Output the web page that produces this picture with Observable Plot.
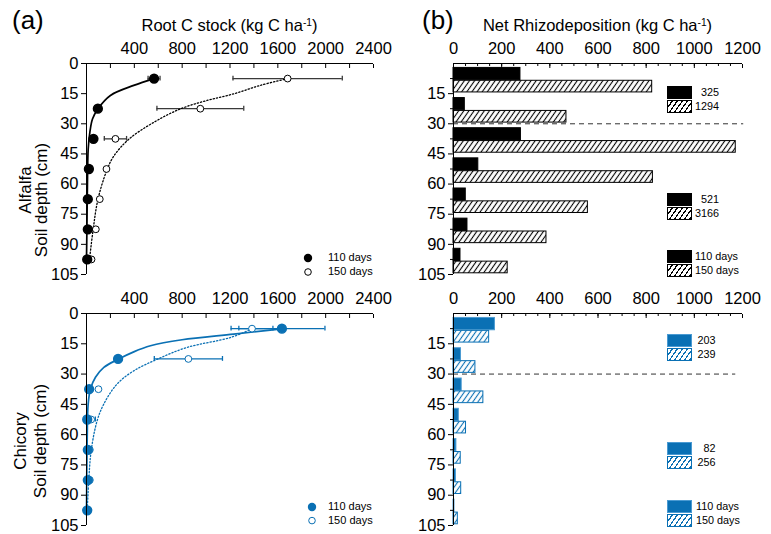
<!DOCTYPE html>
<html><head><meta charset="utf-8">
<script src="https://cdn.jsdelivr.net/npm/d3@7"></script>
<script src="https://cdn.jsdelivr.net/npm/@observablehq/plot@0.6"></script>
<style>
body{margin:0;background:#fff;}
#fig{position:relative;width:771px;height:534px;font-family:"Liberation Sans",Arial,Helvetica,sans-serif;color:#000;overflow:hidden;background:#fff}
.t{position:absolute;white-space:nowrap;line-height:1;}
.sw{position:absolute;box-sizing:border-box;width:25px;height:13px;}
</style></head><body><div id="fig"></div>
<script>
// ---------- data ----------
const depthTop = [0, 15, 30, 45, 60, 75, 90];
const depthMid = [7.5, 22.5, 37.5, 52.5, 67.5, 82.5, 97.5];
const xTicksRoot = [400, 800, 1200, 1600, 2000, 2400];
const xTicksRhizo = [0, 200, 400, 600, 800, 1000, 1200];
const yTicksDepth = [0, 15, 30, 45, 60, 75, 90, 105];

// Root C stock (kg C ha-1)
const alfalfaRoot110 = [565, 95, 58, 20, 11, 11, 6];
const alfalfaRoot110Err = [50, 0, 0, 0, 0, 0, 0];
const alfalfaRoot150 = [1682, 952, 242, 167, 111, 78, 42];
const alfalfaRoot150Err = [457, 363, 93, 0, 0, 0, 0];
const chicoryRoot110 = [1634, 264, 22, 6, 11, 11, 6];
const chicoryRoot110Err = [360, 0, 0, 0, 0, 0, 0];
const chicoryRoot150 = [1384, 852, 100, 39, 28, 28, 11];
const chicoryRoot150Err = [175, 285, 0, 35, 15, 15, 10];

// fitted curves
const alfalfaFit110Root = [565, 395, 200, 95, 50, 28, 14, 8, 3, 0];
const alfalfaFit110Depth = [7.5, 10.9, 15.9, 22.6, 27.6, 34.3, 42.7, 59.5, 84.6, 97.5];
const alfalfaFit150Root = [1682, 1453, 1231, 1008, 785, 562, 354, 228, 167, 95, 55, 25];
const alfalfaFit150Depth = [7.5, 10.9, 15.1, 18.4, 22.6, 29.3, 37.7, 46.1, 53.6, 67.8, 82.9, 97.5];
const chicoryFit110Root = [1634, 1230, 799, 535, 395, 264, 145, 75, 33, 14, 6, 0];
const chicoryFit110Depth = [7.6, 10.2, 13.0, 16.0, 19.0, 22.7, 26.7, 31.6, 37.4, 44.8, 61.3, 97.5];
const chicoryFit150Root = [1384, 1203, 841, 590, 395, 256, 145, 89, 39, 19, 6];
const chicoryFit150Depth = [7.6, 11.9, 16.8, 22.7, 28.4, 34.9, 44.8, 53.1, 67.9, 82.7, 97.6];

// Net rhizodeposition (kg C ha-1), per 15-cm layer
const alfalfaRhizo110 = [278, 47, 280, 103, 51, 58, 29];
const alfalfaRhizo150 = [825, 469, 1172, 828, 558, 386, 225];
const chicoryRhizo110 = [172, 31, 34, 22, 12, 10, 4];
const chicoryRhizo150 = [148, 91, 124, 52, 30, 32, 18];
// layer totals shown as legends (0-30 cm, 30-105 cm)
const alfalfaTotal110 = [325, 521];
const alfalfaTotal150 = [1294, 3166];
const chicoryTotal110 = [203, 82];
const chicoryTotal150 = [239, 256];
const seriesNames = ["110 days", "150 days"];

// ---------- style ----------
const FONT = '"Liberation Sans", Arial, Helvetica, sans-serif';
const BLACK = "#000";
const BLUE = "#0a70b4";
const BLUE_EDGE = "#4a9ad2";
const fmt = d => String(d);
const fig = document.getElementById("fig");

function place(el, left, top) {
  el.style.position = "absolute"; el.style.left = left + "px"; el.style.top = top + "px";
  fig.appendChild(el);
}
function txt(html, x, baseline, size, anchor = "start") {
  const d = document.createElement("div");
  d.className = "t";
  d.innerHTML = html;
  d.style.fontSize = size + "px";
  d.style.left = x + "px";
  d.style.top = (baseline - 0.8465 * size) + "px";
  if (anchor === "middle") d.style.transform = "translateX(-50%)";
  if (anchor === "end") d.style.transform = "translateX(-100%)";
  fig.appendChild(d);
  return d;
}
function vtxt(str, baselineX, cy, size) {
  const d = document.createElement("div");
  d.className = "t";
  d.textContent = str;
  d.style.fontSize = size + "px";
  d.style.left = (baselineX - 0.3465 * size) + "px";
  d.style.top = cy + "px";
  d.style.transform = "translate(-50%,-50%) rotate(-90deg)";
  fig.appendChild(d);
}
function addHatch(svg, id, color) {
  const ns = "http://www.w3.org/2000/svg";
  const defs = document.createElementNS(ns, "defs");
  defs.innerHTML = `<pattern id="${id}" patternUnits="userSpaceOnUse" width="4.2" height="6" patternTransform="rotate(35)">
    <rect width="4.2" height="6" fill="#fff"/>
    <line x1="2.1" y1="-1" x2="2.1" y2="7" stroke="${color}" stroke-width="1.1"/></pattern>`;
  svg.insertBefore(defs, svg.firstChild);
}

// ---------- panel (a): root C stock ----------
function rootPanel(c) {
  const p110 = depthMid.map((d, i) => ({d, v: c.v110[i], e: c.e110[i]}));
  const p150 = depthMid.map((d, i) => ({d, v: c.v150[i], e: c.e150[i]}));
  const errs = [...p110, ...p150].filter(p => p.e > 0);
  const caps = errs.flatMap(p => [{d: p.d, x: p.v - p.e}, {d: p.d, x: p.v + p.e}]);
  const f110 = c.fit110v.map((v, i) => ({v, d: c.fit110d[i]}));
  const f150 = c.fit150v.map((v, i) => ({v, d: c.fit150d[i]}));
  return Plot.plot({
    width: 385, height: c.height,
    marginLeft: 86, marginRight: 12, marginTop: c.mt, marginBottom: c.mb,
    style: {fontSize: "16.5px", fontFamily: FONT, color: "#000", background: "none", overflow: "visible"},
    x: {domain: [0, 2400]},
    y: {domain: [0, 105], reverse: true},
    marks: [
      Plot.ruleY(errs, {y: "d", x1: p => p.v - p.e, x2: p => p.v + p.e, stroke: c.err, strokeWidth: 1.3}),
      Plot.ruleX(caps, {x: "x", y1: p => p.d - 1.2, y2: p => p.d + 1.2, stroke: c.err, strokeWidth: 1.3}),
      Plot.line(f150, {x: "v", y: "d", curve: "catmull-rom", stroke: c.color, strokeWidth: 1.3, strokeDasharray: "1.3,2"}),
      Plot.line(f110, {x: "v", y: "d", curve: "catmull-rom", stroke: c.color, strokeWidth: 1.7}),
      Plot.dot(p150, {x: "v", y: "d", r: 3.4, fill: "#fff", stroke: c.color, strokeWidth: 1}),
      Plot.dot(p110, {x: "v", y: "d", r: 4.4, fill: c.color, stroke: c.color}),
      Plot.ruleY([0]), Plot.ruleX([0]),
      Plot.axisX({anchor: "top", ticks: d3.range(0, 2401, 200), tickSize: -4, fill: "none", label: null}),
      Plot.axisX({anchor: "top", ticks: xTicksRoot, tickSize: 0, tickPadding: 9.5, tickFormat: fmt, label: null}),
      Plot.axisY({anchor: "left", ticks: yTicksDepth, tickSize: 5, tickPadding: 3, tickFormat: fmt, label: null})
    ]
  });
}

// ---------- panel (b): rhizodeposition ----------
function rhizoPanel(c) {
  const rows = depthTop.map((t, i) => ({t, a: c.v110[i], b: c.v150[i]}));
  const svg = Plot.plot({
    width: 386, height: c.height,
    marginLeft: 68, marginRight: 29, marginTop: c.mt, marginBottom: c.mb,
    style: {fontSize: "16.5px", fontFamily: FONT, color: "#000", background: "none", overflow: "visible"},
    x: {domain: [0, 1200]},
    y: {domain: [0, 105], reverse: true},
    marks: [
      Plot.rect(rows, {x1: 0, x2: "a", y1: r => r.t + 2.2, y2: r => r.t + 8.3, fill: c.fill110, stroke: c.edge110, strokeWidth: 1}),
      Plot.rect(rows, {x1: 0, x2: "b", y1: r => r.t + 8.6, y2: r => r.t + 14.4, fill: `url(#${c.hatch})`, stroke: c.color, strokeWidth: 1}),
      Plot.ruleY([30], {x1: 0, x2: c.dashEnd, stroke: "#333", strokeWidth: 1, strokeDasharray: "5,4"}),
      Plot.ruleY([0]), Plot.ruleX([0]),
      Plot.axisX({anchor: "top", ticks: d3.range(0, 1201, 50), tickSize: -2, fill: "none", label: null}),
      Plot.axisX({anchor: "top", ticks: xTicksRhizo, tickSize: -4, fill: "none", label: null}),
      Plot.axisX({anchor: "top", ticks: xTicksRhizo, tickSize: 0, tickPadding: 9.5, tickFormat: fmt, label: null}),
      Plot.axisY({anchor: "left", ticks: depthMid, tickSize: 3, fill: "none", label: null}),
      Plot.axisY({anchor: "left", ticks: yTicksDepth.slice(1), tickSize: 5, tickPadding: 3, tickFormat: fmt, label: null})
    ]
  });
  addHatch(svg, c.hatch, c.color);
  return svg;
}

place(rootPanel({v110: alfalfaRoot110, e110: alfalfaRoot110Err, v150: alfalfaRoot150, e150: alfalfaRoot150Err,
  fit110v: alfalfaFit110Root, fit110d: alfalfaFit110Depth, fit150v: alfalfaFit150Root, fit150d: alfalfaFit150Depth,
  color: BLACK, err: "#3a3a3a", height: 282, mt: 63, mb: 8}), 0, 0);
place(rootPanel({v110: chicoryRoot110, e110: chicoryRoot110Err, v150: chicoryRoot150, e150: chicoryRoot150Err,
  fit110v: chicoryFit110Root, fit110d: chicoryFit110Depth, fit150v: chicoryFit150Root, fit150d: chicoryFit150Depth,
  color: BLUE, err: BLUE, height: 252, mt: 31, mb: 9}), 0, 282);
place(rhizoPanel({v110: alfalfaRhizo110, v150: alfalfaRhizo150, fill110: "#000", edge110: "#000", color: "#000",
  hatch: "hatchK", dashEnd: 1205, height: 282, mt: 63, mb: 8}), 385, 0);
place(rhizoPanel({v110: chicoryRhizo110, v150: chicoryRhizo150, fill110: BLUE, edge110: BLUE_EDGE, color: BLUE,
  hatch: "hatchB", dashEnd: 1172, height: 252, mt: 31, mb: 9}), 385, 282);

// ---------- titles ----------
txt("(a)", 12, 29.5, 26);
txt("(b)", 422, 29.5, 26);
txt("Root C stock (kg C ha<sup style='font-size:0.62em;vertical-align:0;position:relative;top:-0.5em'>-1</sup>)", 229.5, 31, 16.5, "middle");
txt("Net Rhizodeposition (kg C ha<sup style='font-size:0.62em;vertical-align:0;position:relative;top:-0.5em'>-1</sup>)", 597.5, 31, 16.5, "middle");
vtxt("Alfalfa", 31, 190, 17);
vtxt("Soil depth (cm)", 46.5, 200, 17);
vtxt("Chicory", 26, 441, 17);
vtxt("Soil depth (cm)", 45.5, 441, 17);

// ---------- legends in (a) ----------
function dotLegend(cx, cy1, cy2, color, tx) {
  const ns = "http://www.w3.org/2000/svg";
  const s = document.createElementNS(ns, "svg");
  s.setAttribute("width", 12); s.setAttribute("height", 26);
  s.innerHTML = `<circle cx="6" cy="5" r="4.2" fill="${color}"/><circle cx="6" cy="${cy2 - cy1 + 5}" r="3.3" fill="#fff" stroke="${color}" stroke-width="1"/>`;
  s.style.overflow = "visible";
  place(s, cx - 6, cy1 - 5);
  txt(seriesNames[0], tx, cy1 + 3.8, 11);
  txt(seriesNames[1], tx, cy2 + 3.8, 11);
}
dotLegend(308.3, 257.7, 271.7, BLACK, 328);
dotLegend(311.7, 506.7, 520.3, BLUE, 328);

// ---------- legends in (b) ----------
function swatch(x, y, solid, color, edge) {
  const d = document.createElement("div");
  d.className = "sw";
  if (solid) { d.style.background = color; d.style.border = "1px solid " + edge; }
  else {
    d.style.border = "1px solid " + color;
    d.style.background = `repeating-linear-gradient(125deg, #fff 0 2.9px, ${color} 2.9px 4.1px)`;
  }
  place(d, x, y);
}
function barLegend(top, labels, color, edge, textX, anchor) {
  swatch(667, top, true, color, edge);
  swatch(667, top + 14, false, color);
  txt(String(labels[0]), textX, top + 6.5 + 3.9, 10.8, anchor);
  txt(String(labels[1]), textX, top + 20.5 + 3.9, 10.8, anchor);
}
barLegend(86, [alfalfaTotal110[0], alfalfaTotal150[0]], "#000", "#000", 719, "end");
barLegend(193, [alfalfaTotal110[1], alfalfaTotal150[1]], "#000", "#000", 719, "end");
barLegend(250, seriesNames, "#000", "#000", 695, "start");
barLegend(334, [chicoryTotal110[0], chicoryTotal150[0]], BLUE, BLUE_EDGE, 715.5, "end");
barLegend(442, [chicoryTotal110[1], chicoryTotal150[1]], BLUE, BLUE_EDGE, 715.5, "end");
barLegend(500, seriesNames, BLUE, BLUE_EDGE, 696, "start");
</script></body></html>
